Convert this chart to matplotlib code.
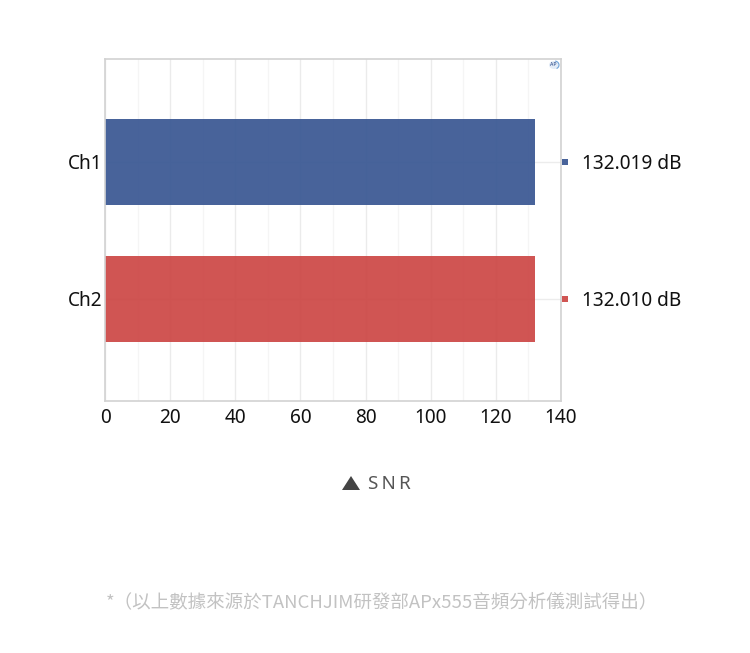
import matplotlib
matplotlib.use('Agg')
import matplotlib.pyplot as plt
from matplotlib.patches import Arc, Ellipse

channels = ['Ch1', 'Ch2']
snr_values = [132.019, 132.010]
value_labels = ['132.019 dB', '132.010 dB']
bar_colors = ['#385692', '#cc4644']
x_ticks = [0, 20, 40, 60, 80, 100, 120, 140]
x_minor_ticks = [10, 30, 50, 70, 90, 110, 130]
legend_label = 'S\u2009N\u2009R'
footnote = '*（以上數據來源於TANCHJIM研發部APx555音頻分析儀測試得出）'

W, H = 750, 653
plt.rcParams['font.family'] = ['Noto Sans', 'DejaVu Sans']

fig = plt.figure(figsize=(W / 100, H / 100), dpi=100)
ax = fig.add_axes([105 / W, 1 - 401 / H, 456 / W, 342 / H])

# one category step is 137 px, axes are 342 px high
ax.set_xlim(0, 140)
ax.set_ylim(1.745, -0.752)

ax.barh([0, 1], snr_values, height=0.628, color=bar_colors, alpha=0.92, zorder=2)

ax.set_xticks(x_ticks)
ax.set_xticks(x_minor_ticks, minor=True)
ax.grid(True, axis='x', which='major', color='#ebebeb', linewidth=1, zorder=1)
ax.grid(True, axis='x', which='minor', color='#f5f5f5', linewidth=1, zorder=1)
for y in [0, 1]:
    ax.axhline(y, color='#ececec', linewidth=1, zorder=1)
ax.set_axisbelow(True)

ax.set_yticks([0, 1])
ax.set_yticklabels(channels)
ax.tick_params(axis='both', which='both', length=0, labelsize=13.7, labelcolor='#111111')
ax.tick_params(axis='y', pad=2)
ax.tick_params(axis='x', pad=5)

for side in ax.spines.values():
    side.set_color('#d2d2d2')
    side.set_linewidth(1.2)

# value labels right of the axes, with small colour squares
trans = ax.get_yaxis_transform()
for y, label, c in zip([0, 1], value_labels, bar_colors):
    ax.plot([(565 - 105) / 456], [y], marker='s', markersize=4, color=c, alpha=0.92,
            markeredgewidth=0, transform=trans, clip_on=False, linestyle='None')
    ax.text((582 - 105) / 456, y, label, transform=trans, va='center_baseline', ha='left',
            fontsize=13.7, color='#111111', clip_on=False)

# small AP logo in the corner
logo = fig.add_axes([0, 0, 1, 1], facecolor='none')
logo.set_xlim(0, W)
logo.set_ylim(H, 0)
logo.axis('off')
logo.add_patch(Ellipse((554, 65), 10, 8, color='#e3ecf7', linewidth=0))
logo.add_patch(Arc((554.5, 65), 9, 8, theta1=-80, theta2=60, color='#6fa3d8', linewidth=0.8))
logo.text(553.5, 65, 'AP', fontsize=3.8, fontweight='bold', color='#1f3f80', ha='center', va='center')

# legend entry
logo.fill([342, 351, 360], [490, 476, 490], color='#444444', linewidth=0)
logo.text(367.5, 484, legend_label, fontsize=13.5, color='#555555', ha='left', va='center')

logo.text(106, 602, footnote, fontsize=13.35, color='#c2c2c2', ha='left', va='center',
          family=['Noto Sans CJK TC', 'DejaVu Sans'])

fig.savefig('out.png', dpi=100)
